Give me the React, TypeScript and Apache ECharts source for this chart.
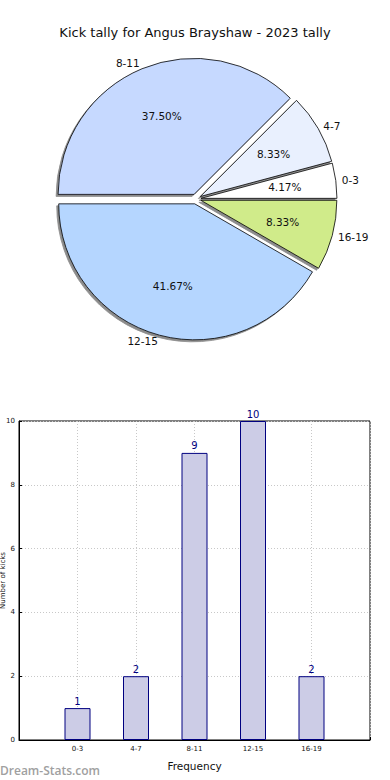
import React, { useEffect, useRef } from "react";
import * as echarts from "echarts";

const titleText = "Kick tally for Angus Brayshaw - 2023 tally";
const categories = ["0-3", "4-7", "8-11", "12-15", "16-19"];
const counts = [1, 2, 9, 10, 2];
const pieColors = ["#ffffff", "#e9f0fe", "#c6d9ff", "#b5d6ff", "#d0eb8a"];
const yTicks = { min: 0, max: 10, interval: 2 };
const xAxisName = "Frequency";
const yAxisName = "Number of kicks";
const watermark = "Dream-Stats.com";

export default function App() {
  const ref = useRef<HTMLDivElement>(null);
  useEffect(() => {
    document.body.style.margin = "0";
    if (!ref.current) return;
    const chart = echarts.init(ref.current, null, { renderer: "svg" });
    const total = counts.reduce((a, b) => a + b, 0);
    const pieData = categories.map((c, i) => ({
      name: c,
      value: counts[i],
      selected: true,
      itemStyle: { color: pieColors[i] },
    }));
    const R = 136;
    const font = "DejaVu Sans";
    chart.setOption({
      animation: false,
      title: {
        text: titleText,
        left: "center",
        top: 21,
        textStyle: { fontFamily: font, fontSize: 13, fontWeight: "normal", color: "#111" },
      },
      graphic: [
        {
          type: "text",
          left: 0,
          top: 764,
          style: {
            text: watermark,
            fontFamily: "Open Sans",
            fontWeight: 600,
            fontSize: 12,
            fill: "#a0a0a0",
          },
        },
      ],
      grid: {
        left: 19,
        right: 20,
        top: 421,
        bottom: 40,
        containLabel: false,
        outerBoundsMode: "none",
        show: true,
        borderColor: "#000",
        borderWidth: 1,
        backgroundColor: "transparent",
      },
      xAxis: {
        type: "category",
        boundaryGap: false,
        data: ["", ...categories, ""],
        name: xAxisName,
        nameLocation: "middle",
        nameGap: 20,
        nameMoveOverlap: false,
        nameTextStyle: { fontFamily: font, fontSize: 10.5, color: "#111" },
        axisLine: { lineStyle: { color: "#000" } },
        axisTick: { show: true, inside: true, length: 3, lineStyle: { color: "#000" } },
        axisLabel: { fontFamily: font, fontSize: 7, color: "#111", margin: 5 },
        splitLine: { show: true, lineStyle: { color: "#c8c8c8", type: [1, 2] } },
      },
      yAxis: {
        type: "value",
        min: yTicks.min,
        max: yTicks.max,
        interval: yTicks.interval,
        name: yAxisName,
        nameLocation: "middle",
        nameRotate: 90,
        nameGap: 13,
        nameMoveOverlap: false,
        nameTextStyle: { fontFamily: font, fontSize: 7, color: "#111" },
        axisLine: { show: true, lineStyle: { color: "#000" } },
        axisTick: { show: true, inside: true, length: 3, lineStyle: { color: "#000" } },
        axisLabel: { fontFamily: font, fontSize: 7, color: "#111", margin: 4 },
        splitLine: { show: true, lineStyle: { color: "#c8c8c8", type: [1, 2] } },
      },
      series: [
        {
          type: "pie",
          center: [196, 199],
          radius: R,
          startAngle: 0,
          clockwise: false,
          selectedMode: "multiple",
          selectedOffset: 5,
          avoidLabelOverlap: false,
          silent: true,
          data: pieData,
          itemStyle: {
            borderColor: "#000",
            borderWidth: 0.8,
            shadowColor: "rgba(0,0,0,0.45)",
            shadowBlur: 0,
            shadowOffsetX: -2,
            shadowOffsetY: 2,
          },
          label: {
            show: true,
            position: "outside",
            formatter: "{b}",
            fontFamily: font,
            fontSize: 10.5,
            color: "#111",
            distanceToLabelLine: 0,
          },
          labelLine: { show: false, length: 6, length2: 0 },
          emphasis: { disabled: true },
        },
        {
          type: "pie",
          center: [196, 199],
          radius: [R * 0.2, R],
          startAngle: 0,
          clockwise: false,
          selectedMode: "multiple",
          selectedOffset: 5,
          avoidLabelOverlap: false,
          silent: true,
          data: pieData.map((d) => ({ ...d, itemStyle: { color: "transparent" } })),
          itemStyle: { borderWidth: 0 },
          label: {
            show: true,
            position: "inside",
            formatter: (p: any) => ((p.value / total) * 100).toFixed(2) + "%",
            fontFamily: font,
            fontSize: 10.5,
            color: "#111",
          },
          labelLine: { show: false },
          emphasis: { disabled: true },
        },
        {
          type: "bar",
          data: [null, ...counts, null],
          barWidth: 26,
          itemStyle: { color: "#ccccE6", borderColor: "#000080", borderWidth: 1 },
          label: {
            show: true,
            position: "top",
            distance: 2,
            fontFamily: font,
            fontSize: 10,
            color: "#000080",
          },
          emphasis: { disabled: true },
          z: 1,
        },
      ],
    });
    return () => chart.dispose();
  }, []);
  return <div ref={ref} style={{ width: 390, height: 780 }} />;
}
